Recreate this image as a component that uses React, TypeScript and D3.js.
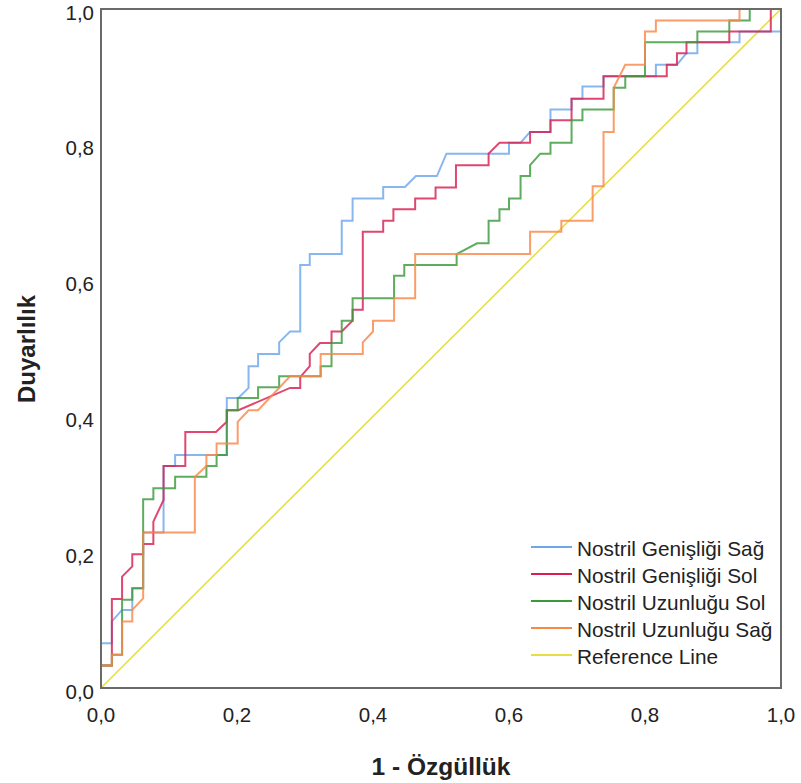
import React from "react";
import * as d3 from "d3";

type Pt = [number, number];

const seriesNames = [
  "Nostril Genişliği Sağ",
  "Nostril Genişliği Sol",
  "Nostril Uzunluğu Sol",
  "Nostril Uzunluğu Sağ",
];
const referenceName = "Reference Line";

const genislikSag: Pt[] = [
  [0, 0], [0, 0.066], [0.016, 0.066], [0.016, 0.098], [0.031, 0.115], [0.046, 0.115],
  [0.046, 0.147], [0.062, 0.147], [0.062, 0.229], [0.092, 0.229], [0.092, 0.327],
  [0.109, 0.327], [0.109, 0.343], [0.185, 0.343], [0.185, 0.427], [0.202, 0.427],
  [0.217, 0.442], [0.217, 0.474], [0.231, 0.474], [0.231, 0.492], [0.262, 0.492],
  [0.262, 0.509], [0.278, 0.525], [0.293, 0.525], [0.293, 0.623], [0.307, 0.623],
  [0.307, 0.639], [0.354, 0.639], [0.354, 0.688], [0.37, 0.688], [0.37, 0.721],
  [0.415, 0.721], [0.415, 0.738], [0.447, 0.738], [0.463, 0.754], [0.494, 0.754],
  [0.508, 0.787], [0.6, 0.787], [0.6, 0.803], [0.617, 0.803], [0.631, 0.819],
  [0.661, 0.819], [0.661, 0.852], [0.692, 0.852], [0.692, 0.868], [0.708, 0.868],
  [0.708, 0.886], [0.739, 0.886], [0.739, 0.901], [0.816, 0.901], [0.816, 0.918],
  [0.847, 0.918], [0.861, 0.935], [0.877, 0.935], [0.877, 0.951], [0.939, 0.951],
  [0.939, 0.967], [1, 0.967], [1, 1],
];

const genislikSol: Pt[] = [
  [0, 0], [0, 0.033], [0.016, 0.033], [0.016, 0.131], [0.031, 0.131], [0.031, 0.164],
  [0.046, 0.179], [0.046, 0.197], [0.062, 0.197], [0.062, 0.212], [0.077, 0.212],
  [0.077, 0.245], [0.092, 0.277], [0.092, 0.327], [0.124, 0.327], [0.124, 0.377],
  [0.169, 0.377], [0.185, 0.392], [0.185, 0.409], [0.202, 0.409], [0.278, 0.442],
  [0.293, 0.442], [0.293, 0.458], [0.307, 0.474], [0.307, 0.492], [0.322, 0.508],
  [0.339, 0.508], [0.339, 0.525], [0.354, 0.525], [0.37, 0.541], [0.37, 0.557],
  [0.385, 0.557], [0.385, 0.672], [0.415, 0.672], [0.415, 0.688], [0.43, 0.688],
  [0.43, 0.705], [0.462, 0.705], [0.462, 0.721], [0.492, 0.721], [0.492, 0.737],
  [0.522, 0.737], [0.522, 0.77], [0.57, 0.77], [0.57, 0.787], [0.586, 0.803],
  [0.631, 0.803], [0.631, 0.819], [0.661, 0.819], [0.661, 0.836], [0.692, 0.836],
  [0.692, 0.868], [0.739, 0.868], [0.739, 0.901], [0.832, 0.901], [0.832, 0.918],
  [0.847, 0.918], [0.847, 0.935], [0.861, 0.935], [0.861, 0.951], [0.924, 0.951],
  [0.924, 0.967], [0.985, 0.967], [0.985, 1], [1, 1],
];

const uzunlukSol: Pt[] = [
  [0, 0], [0, 0.033], [0.016, 0.033], [0.016, 0.049], [0.031, 0.049], [0.031, 0.13],
  [0.046, 0.13], [0.046, 0.147], [0.062, 0.147], [0.062, 0.278], [0.077, 0.278],
  [0.077, 0.294], [0.109, 0.294], [0.109, 0.311], [0.155, 0.311], [0.155, 0.327],
  [0.17, 0.327], [0.17, 0.343], [0.185, 0.343], [0.185, 0.409], [0.201, 0.409],
  [0.201, 0.427], [0.231, 0.427], [0.231, 0.443], [0.262, 0.443], [0.262, 0.459],
  [0.323, 0.459], [0.323, 0.474], [0.339, 0.474], [0.339, 0.508], [0.354, 0.508],
  [0.354, 0.541], [0.37, 0.541], [0.37, 0.574], [0.431, 0.574], [0.431, 0.607],
  [0.446, 0.607], [0.446, 0.623], [0.523, 0.623], [0.523, 0.639], [0.553, 0.655],
  [0.57, 0.655], [0.57, 0.688], [0.586, 0.688], [0.586, 0.705], [0.6, 0.705],
  [0.6, 0.721], [0.617, 0.721], [0.617, 0.754], [0.631, 0.754], [0.631, 0.77],
  [0.646, 0.787], [0.661, 0.787], [0.661, 0.803], [0.692, 0.803], [0.692, 0.836],
  [0.708, 0.836], [0.708, 0.852], [0.754, 0.852], [0.754, 0.884], [0.771, 0.884],
  [0.771, 0.901], [0.8, 0.901], [0.8, 0.951], [0.877, 0.951], [0.877, 0.967],
  [0.924, 0.967], [0.924, 0.983], [0.954, 0.983], [0.954, 1], [1, 1],
];

const uzunlukSag: Pt[] = [
  [0, 0], [0, 0.033], [0.016, 0.033], [0.016, 0.049], [0.031, 0.049], [0.031, 0.098],
  [0.046, 0.098], [0.046, 0.115], [0.062, 0.132], [0.062, 0.229], [0.138, 0.229],
  [0.138, 0.311], [0.155, 0.327], [0.155, 0.343], [0.17, 0.343], [0.17, 0.36],
  [0.201, 0.36], [0.201, 0.392], [0.217, 0.409], [0.231, 0.409], [0.278, 0.459],
  [0.323, 0.459], [0.323, 0.492], [0.385, 0.492], [0.385, 0.509], [0.4, 0.525],
  [0.4, 0.541], [0.431, 0.541], [0.431, 0.574], [0.462, 0.574], [0.462, 0.639],
  [0.631, 0.639], [0.631, 0.672], [0.677, 0.672], [0.677, 0.688], [0.723, 0.688],
  [0.723, 0.739], [0.739, 0.739], [0.739, 0.819], [0.754, 0.819], [0.754, 0.884],
  [0.771, 0.918], [0.8, 0.918], [0.8, 0.967], [0.816, 0.967], [0.816, 0.983],
  [0.939, 0.983], [0.939, 1], [1, 1],
];

const referenceLine: Pt[] = [[0, 0], [1, 1]];

const tickValues = [0, 0.2, 0.4, 0.6, 0.8, 1.0];
const xTitle = "1 - Özgüllük";
const yTitle = "Duyarlılık";

const seriesData = [genislikSag, genislikSol, uzunlukSol, uzunlukSag];
const seriesColors = ["#6ea7ec", "#d81f50", "#3b9a3b", "#fa8748"];
const referenceColor = "#e8de44";

const W = 801;
const H = 783;
const left = 101;
const right = 781;
const top = 9;
const bottom = 688;

const fmtLocale = d3.formatLocale({
  decimal: ",",
  thousands: ".",
  grouping: [3],
  currency: ["", ""],
});
const fmt = fmtLocale.format(".1f");

export default function App() {
  const x = d3.scaleLinear().domain([0, 1]).range([left, right]);
  const y = d3.scaleLinear().domain([0, 1]).range([bottom, top]);
  const line = d3
    .line<Pt>()
    .x((d) => x(d[0]))
    .y((d) => y(d[1]));

  const font = "'Liberation Sans', Arial, sans-serif";
  const legendX = 531;
  const legendY0 = 547;
  const legendStep = 27;
  const legendItems = [
    ...seriesNames.map((n, i) => ({ name: n, color: seriesColors[i] })),
    { name: referenceName, color: referenceColor },
  ];

  return (
    <svg
      width={W}
      height={H}
      style={{ position: "absolute", left: 0, top: 0, background: "#fff" }}
      fontFamily={font}
    >
      <rect x={0} y={0} width={W} height={H} fill="#fff" />
      <path
        d={line(referenceLine) || ""}
        fill="none"
        stroke={referenceColor}
        strokeWidth={1.6}
      />
      {seriesData.map((s, i) => (
        <path
          key={i}
          d={line(s) || ""}
          fill="none"
          stroke={seriesColors[i]}
          strokeWidth={2}
          strokeOpacity={0.82}
          strokeLinejoin="miter"
        />
      ))}
      <rect
        x={left}
        y={top}
        width={right - left}
        height={bottom - top}
        fill="none"
        stroke="#6a6a6a"
        strokeWidth={2}
      />
      {tickValues.map((t) => (
        <text
          key={"y" + t}
          x={94}
          y={y(t) + 3}
          textAnchor="end"
          dominantBaseline="central"
          fontSize={20.5}
          fill="#222"
        >
          {fmt(t)}
        </text>
      ))}
      {tickValues.map((t) => (
        <text
          key={"x" + t}
          x={x(t)}
          y={714}
          textAnchor="middle"
          dominantBaseline="central"
          fontSize={20.5}
          fill="#222"
        >
          {fmt(t)}
        </text>
      ))}
      <text
        x={441}
        y={766}
        textAnchor="middle"
        dominantBaseline="central"
        fontSize={24.5}
        fontWeight="bold"
        fill="#222"
      >
        {xTitle}
      </text>
      <text
        transform={`translate(26,349) rotate(-90)`}
        textAnchor="middle"
        dominantBaseline="central"
        fontSize={24}
        fontWeight="bold"
        fill="#222"
      >
        {yTitle}
      </text>
      {legendItems.map((it, i) => (
        <g key={it.name} transform={`translate(${legendX},${legendY0 + i * legendStep})`}>
          <line x1={0} x2={41} y1={0} y2={0} stroke={it.color} strokeWidth={2} />
          <text x={46} y={1} dominantBaseline="central" fontSize={20.8} fill="#222">
            {it.name}
          </text>
        </g>
      ))}
    </svg>
  );
}
